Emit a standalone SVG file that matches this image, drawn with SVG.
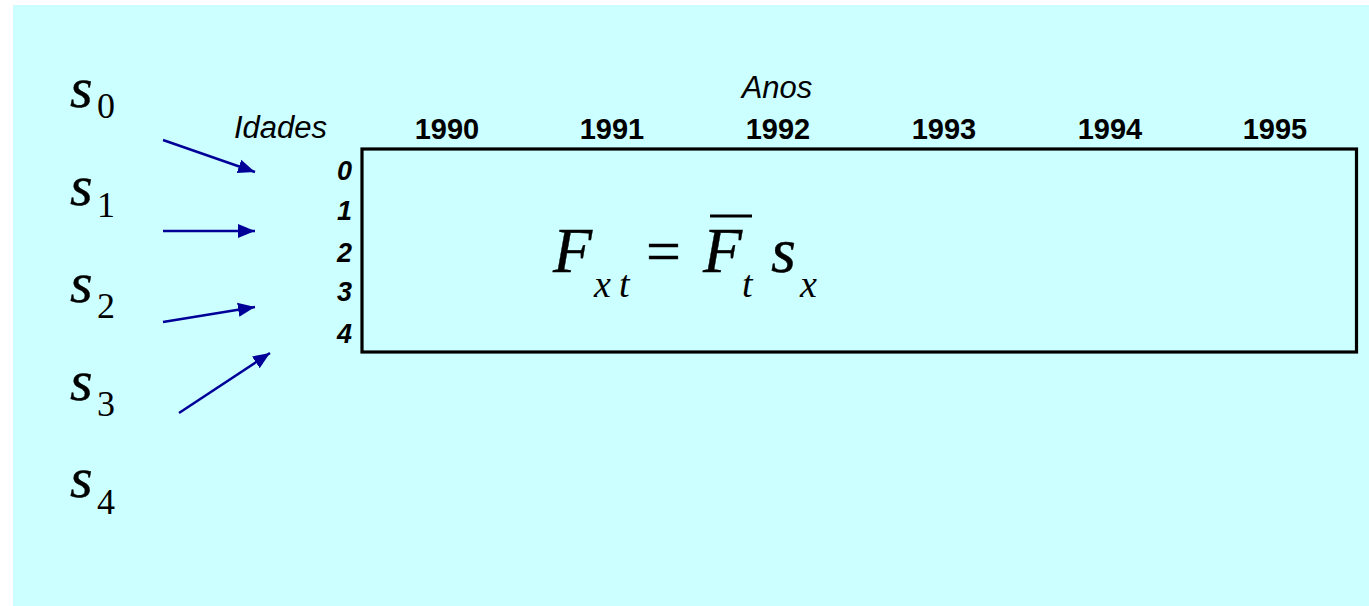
<svg xmlns="http://www.w3.org/2000/svg" width="1369" height="606" viewBox="0 0 1369 606">
<style>
.yr{font-family:"Liberation Sans",Arial,sans-serif;font-weight:bold;font-size:29px;fill:#000;text-anchor:middle}
.hd{font-family:"Liberation Sans",Arial,sans-serif;font-style:italic;font-size:31px;fill:#000}
.ag{font-family:"Liberation Sans",Arial,sans-serif;font-style:italic;font-weight:bold;font-size:27px;fill:#000;text-anchor:end}
.sv{font-family:"Liberation Serif","Times New Roman",serif;font-style:italic;font-size:58px;fill:#000;stroke:#000;stroke-width:0.4}
.sb{font-family:"Liberation Serif","Times New Roman",serif;font-size:36px;fill:#000}
.fm{font-family:"Liberation Serif","Times New Roman",serif;font-style:italic;fill:#000}
.fb{stroke:#000;stroke-width:0.4}
.ar{stroke:#000099;stroke-width:2.5;fill:none;marker-end:url(#ah)}
</style>
<defs>
<marker id="ah" markerUnits="userSpaceOnUse" markerWidth="20" markerHeight="16" refX="17" refY="8" orient="auto">
<path d="M0,1 L17,8 L0,15 Z" fill="#000099"/>
</marker>
</defs>
<rect x="0" y="0" width="1369" height="606" fill="#ffffff"/>
<rect x="13" y="5" width="1356" height="601" fill="#CCFFFF"/>
<g id="header">
<text class="hd" x="777" y="98" text-anchor="middle">Anos</text>
<text class="hd" x="327" y="138" text-anchor="end">Idades</text>
<text class="yr" x="447" y="139">1990</text>
<text class="yr" x="612" y="139">1991</text>
<text class="yr" x="778" y="139">1992</text>
<text class="yr" x="944" y="139">1993</text>
<text class="yr" x="1110" y="139">1994</text>
<text class="yr" x="1275" y="139">1995</text>
</g>
<g id="ages">
<text class="ag" x="352" y="180">0</text>
<text class="ag" x="352" y="220">1</text>
<text class="ag" x="352" y="262">2</text>
<text class="ag" x="352" y="301">3</text>
<text class="ag" x="352" y="343">4</text>
</g>
<g id="matrix">
<rect x="362" y="149" width="994.5" height="203" fill="none" stroke="#000" stroke-width="3.2"/>
</g>
<g id="formula">
<text class="fm fb" x="553" y="272" font-size="64">F</text>
<text class="fm" x="594" y="297" font-size="38">x</text>
<text class="fm" x="619" y="297" font-size="38">t</text>
<text x="646" y="272" font-family="Liberation Serif,serif" font-size="62" fill="#000" class="fb">=</text>
<text class="fm fb" x="703" y="272" font-size="64">F</text>
<line x1="710" y1="216" x2="752" y2="216" stroke="#000" stroke-width="2.8"/>
<text class="fm" x="742" y="297" font-size="38">t</text>
<text class="fm fb" x="771" y="272" font-size="64">s</text>
<text class="fm" x="800" y="297" font-size="38">x</text>
</g>
<g id="s0"><text class="sv" x="70" y="107">s</text><text class="sb" x="97" y="118">0</text></g>
<g id="s1"><text class="sv" x="70" y="205">s</text><text class="sb" x="97" y="217">1</text></g>
<g id="s2"><text class="sv" x="70" y="302">s</text><text class="sb" x="97" y="318">2</text></g>
<g id="s3"><text class="sv" x="70" y="400">s</text><text class="sb" x="97" y="416">3</text></g>
<g id="s4"><text class="sv" x="70" y="497">s</text><text class="sb" x="97" y="514">4</text></g>
<g id="connectors">
<line class="ar" x1="163" y1="140" x2="255" y2="172"/>
<line class="ar" x1="163" y1="231" x2="255" y2="231"/>
<line class="ar" x1="163" y1="322" x2="255" y2="307"/>
<line class="ar" x1="179" y1="413" x2="270" y2="353"/>
</g>
</svg>
